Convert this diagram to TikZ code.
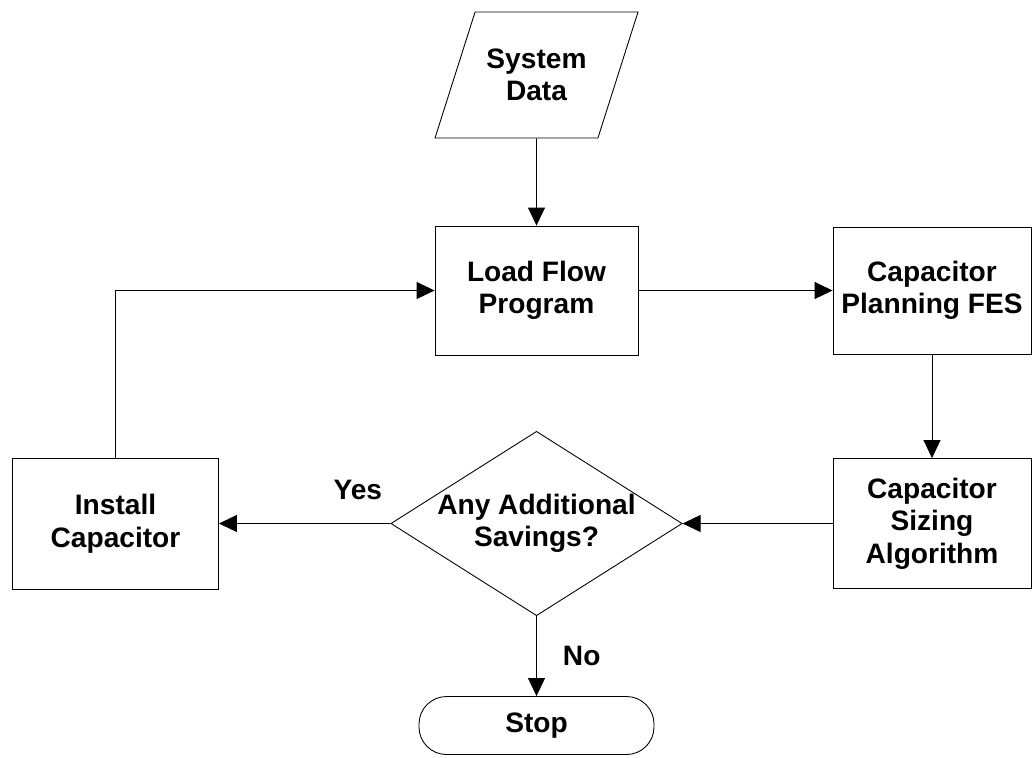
\documentclass[tikz,border=0pt]{standalone}
\usepackage{fontspec}
\setmainfont{Liberation Sans}
\usetikzlibrary{arrows.meta,shapes.geometric,positioning}

\begin{document}
\begin{tikzpicture}[>={Triangle[length=0.36cm,width=0.34cm]},
    node distance=4cm,
    on grid,
    line width=0.5pt,
    every node/.style={font=\fontsize{16}{18.5}\selectfont\bfseries},
    every text node part/.style={align=center},
    lbl/.style = {inner sep=2pt}
  ]
  \tikzstyle{box}=[draw,rectangle,minimum width=4.06cm,minimum height=2.58cm]
  \tikzstyle{io}=[draw,trapezium,trapezium left angle=58,trapezium right angle=122,
                  trapezium stretches body=true,minimum width=4.06cm,minimum height=2.52cm]

  \useasboundingbox (0,0) rectangle (20.64,-15.14);

  \node[box]  (lf)   at (10.73,-5.81)        {Load Flow\\Program};
  \node[io]   (sys)  [above=4.31cm of lf]   {System\\Data};
  \node[box, minimum width=3.96cm, minimum height=2.54cm]
              (fes)  [right=7.91cm of lf]   {Capacitor\\Planning FES};
  \node[draw, diamond, aspect=1.58, inner sep=0pt, minimum width=5.68cm, minimum height=3.6cm]
              (dec)  [below=4.66cm of lf]   {Any Additional\\Savings?};
  \node[box, minimum width=3.96cm, minimum height=2.6cm]
              (siz)  [below=4.66cm of fes]  {Capacitor\\Sizing\\Algorithm};
  \node[box, minimum width=4.12cm, minimum height=2.62cm]
              (ins)  [left=8.42cm of dec]   {Install\\Capacitor};
  \node[draw, rounded corners=0.55cm, minimum width=4.7cm, minimum height=1.16cm]
              (stop) [below=4.04cm of dec]  {Stop};

  \path[->]
  (sys) edge                                          (lf)
  (lf)  edge                                          (fes)
  (fes) edge                                          (siz)
  (siz) edge                                          (dec)
  (dec) edge node [lbl, above, yshift=0.4cm, pos=0.19] {Yes} (ins)
        edge node [lbl, right, xshift=0.45cm]          {No}  (stop)
  (ins) edge [to path={|- (\tikztotarget)}]           (lf)
  ;
\end{tikzpicture}
\end{document}
